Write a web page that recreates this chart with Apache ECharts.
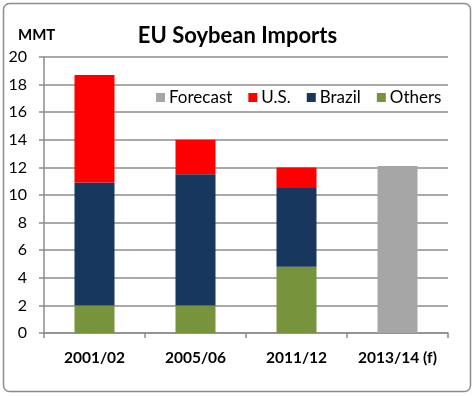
<!DOCTYPE html>
<html><head><meta charset="utf-8">
<script src="https://cdn.jsdelivr.net/npm/echarts@6/dist/echarts.min.js"></script>
<style>html,body{margin:0;padding:0;background:#fff}#c{width:475px;height:396px}</style>
</head><body><div id="c"></div>
<script>
const categories = ['2001/02', '2005/06', '2011/12', '2013/14 (f)'];
const others = [2.0, 2.0, 4.8, '-'];
const brazil = [8.9, 9.5, 5.7, '-'];
const us = [7.8, 2.5, 1.5, '-'];
const forecast = ['-', '-', '-', 12.1];
const yTicks = {min: 0, max: 20, interval: 2};

const FONT = 'Lato';
const chart = echarts.init(document.getElementById('c'));
chart.setOption({
  animation: false,
  textStyle: {fontFamily: FONT},
  title: [
    {text: 'EU Soybean Imports', left: 'center', top: 20,
     textStyle: {fontFamily: FONT, fontSize: 22, fontWeight: 'bold', color: '#000'}},
    {text: 'MMT', left: 13, top: 23,
     textStyle: {fontFamily: FONT, fontSize: 15, fontWeight: 'bold', color: '#000'}}
  ],
  graphic: [
    {type: 'rect', shape: {x: 3.5, y: 3.5, width: 467, height: 388, r: 6},
     style: {fill: 'none', stroke: '#8c8c8c', lineWidth: 1.5}, silent: true}
  ],
  legend: {
    data: ['Forecast', 'U.S.', 'Brazil', 'Others'],
    top: 87, left: 152, itemWidth: 9, itemHeight: 9, itemGap: 16,
    backgroundColor: '#fff', padding: [2, 4],
    icon: 'rect',
    textStyle: {fontFamily: FONT, fontSize: 17, color: '#000', padding: [0, 0, 0, -1]}
  },
  grid: {left: 44, right: 27, top: 57, bottom: 63, containLabel: false},
  xAxis: {
    type: 'category', data: categories, boundaryGap: true,
    axisLine: {lineStyle: {color: '#8c8c8c', width: 1.5}},
    axisTick: {show: true, length: 5, lineStyle: {color: '#8c8c8c', width: 1.5}},
    axisLabel: {interval: 0, hideOverlap: false, fontFamily: FONT, fontSize: 15.5, fontWeight: 'bold', color: '#000', margin: 17}
  },
  yAxis: {
    type: 'value', min: yTicks.min, max: yTicks.max, interval: yTicks.interval,
    axisLine: {show: true, lineStyle: {color: '#8c8c8c', width: 1.5}},
    axisTick: {show: true, length: 5, lineStyle: {color: '#8c8c8c', width: 1.5}},
    splitLine: {lineStyle: {color: '#8c8c8c', width: 1.5}},
    axisLabel: {fontFamily: FONT, fontSize: 16, color: '#000', margin: 17}
  },
  series: [
    {name: 'Others', type: 'bar', stack: 't', data: others, barWidth: 40, itemStyle: {color: '#77933C'}},
    {name: 'Brazil', type: 'bar', stack: 't', data: brazil, barWidth: 40, itemStyle: {color: '#17375E'}},
    {name: 'U.S.', type: 'bar', stack: 't', data: us, barWidth: 40, itemStyle: {color: '#FF0000'}},
    {name: 'Forecast', type: 'bar', stack: 't', data: forecast, barWidth: 40, itemStyle: {color: '#A6A6A6'}}
  ]
});
</script></body></html>
